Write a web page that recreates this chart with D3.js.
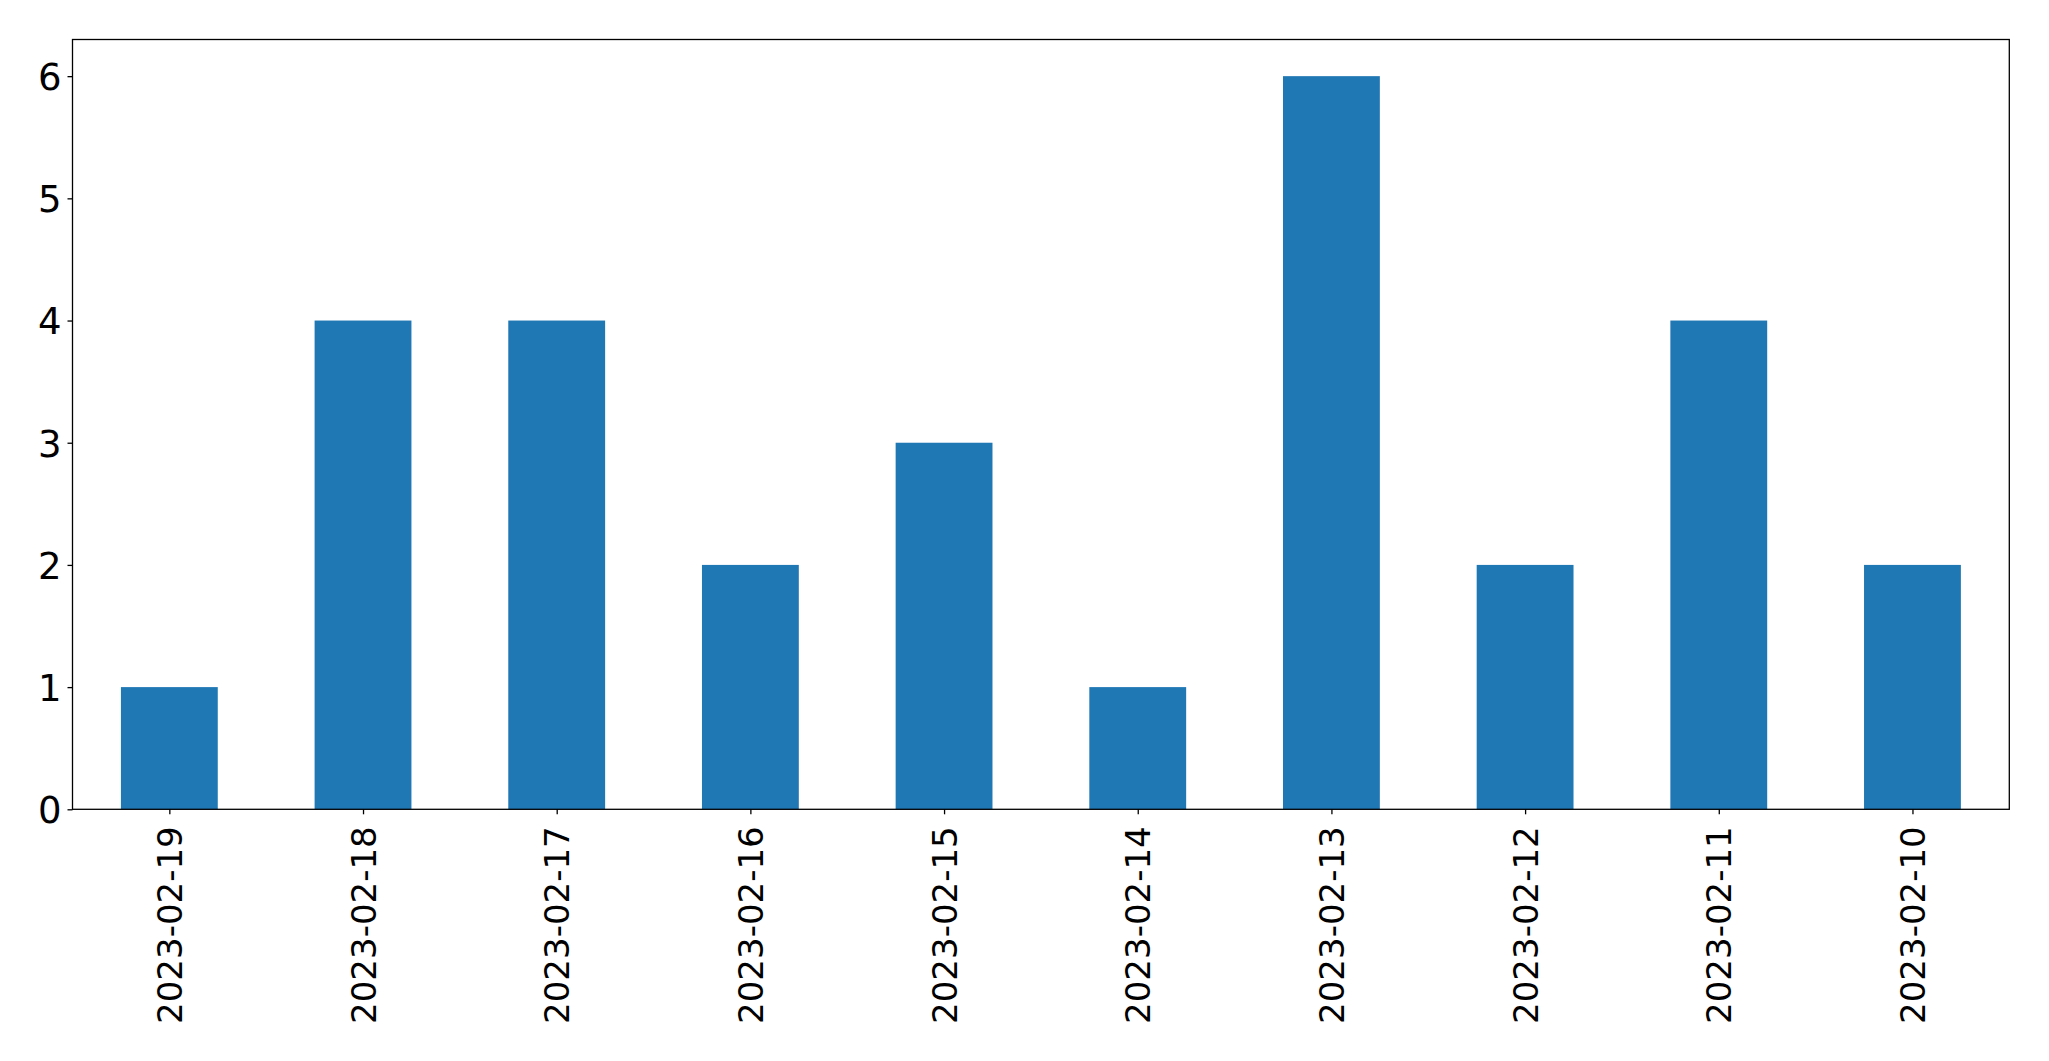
<!DOCTYPE html>
<html><head><meta charset="utf-8">
<script src="https://cdn.jsdelivr.net/npm/d3@7"></script>
<style>html,body{margin:0;padding:0;background:#fff;}</style>
</head><body>
<svg id="chart" width="2049" height="1061"></svg>
<script>
const categories = ["2023-02-19","2023-02-18","2023-02-17","2023-02-16","2023-02-15","2023-02-14","2023-02-13","2023-02-12","2023-02-11","2023-02-10"];
const values = [1,4,4,2,3,1,6,2,4,2];
const yTicks = [0,1,2,3,4,5,6];

(function(){
const svg = d3.select("#chart");
const mLeft = 72.5, mRight = 2009.3, mTop = 39.5, mBottom = 809.3;
const xFont = 34, yFont = 37;

const x = d3.scaleLinear().domain([-0.5, categories.length - 0.5]).range([mLeft, mRight]);
const y = d3.scaleLinear().domain([0, 6.3]).range([mBottom, mTop]);
const barW = x(0.25) - x(-0.25);

svg.append("g").selectAll("rect").data(values).join("rect")
  .attr("x", (d,i) => x(i) - barW/2)
  .attr("y", d => y(d))
  .attr("width", barW)
  .attr("height", d => y(0) - y(d))
  .attr("fill", "#1f77b4");

svg.append("rect").attr("x", mLeft).attr("y", mTop).attr("width", mRight-mLeft).attr("height", mBottom-mTop)
  .attr("fill","none").attr("stroke","#000").attr("stroke-width",1.3);

const yAxis = d3.axisLeft(y).tickValues(yTicks).tickFormat(d3.format("d")).tickSize(5).tickPadding(6);
const gy = svg.append("g").attr("transform", `translate(${mLeft},0)`).call(yAxis);
gy.select(".domain").remove();
gy.selectAll("line").attr("stroke","#000").attr("stroke-width",1.3);
gy.selectAll("text").attr("font-family","'DejaVu Sans', sans-serif").attr("font-size",yFont).attr("fill","#000")
  .attr("dy","0.36em");

const xAxis = d3.axisBottom(x).tickValues(d3.range(categories.length)).tickFormat(i => categories[i]).tickSize(5).tickPadding(0);
const gx = svg.append("g").attr("transform", `translate(0,${mBottom})`).call(xAxis);
gx.select(".domain").remove();
gx.selectAll("line").attr("stroke","#000").attr("stroke-width",1.3);
gx.selectAll("text").attr("font-family","'DejaVu Sans', sans-serif").attr("font-size",xFont).attr("fill","#000")
  .attr("text-anchor","end")
  .attr("dy",null)
  .attr("y",0)
  .attr("dominant-baseline","central")
  .attr("transform","translate(0,17) rotate(-90)");
})();
</script>
</body></html>
